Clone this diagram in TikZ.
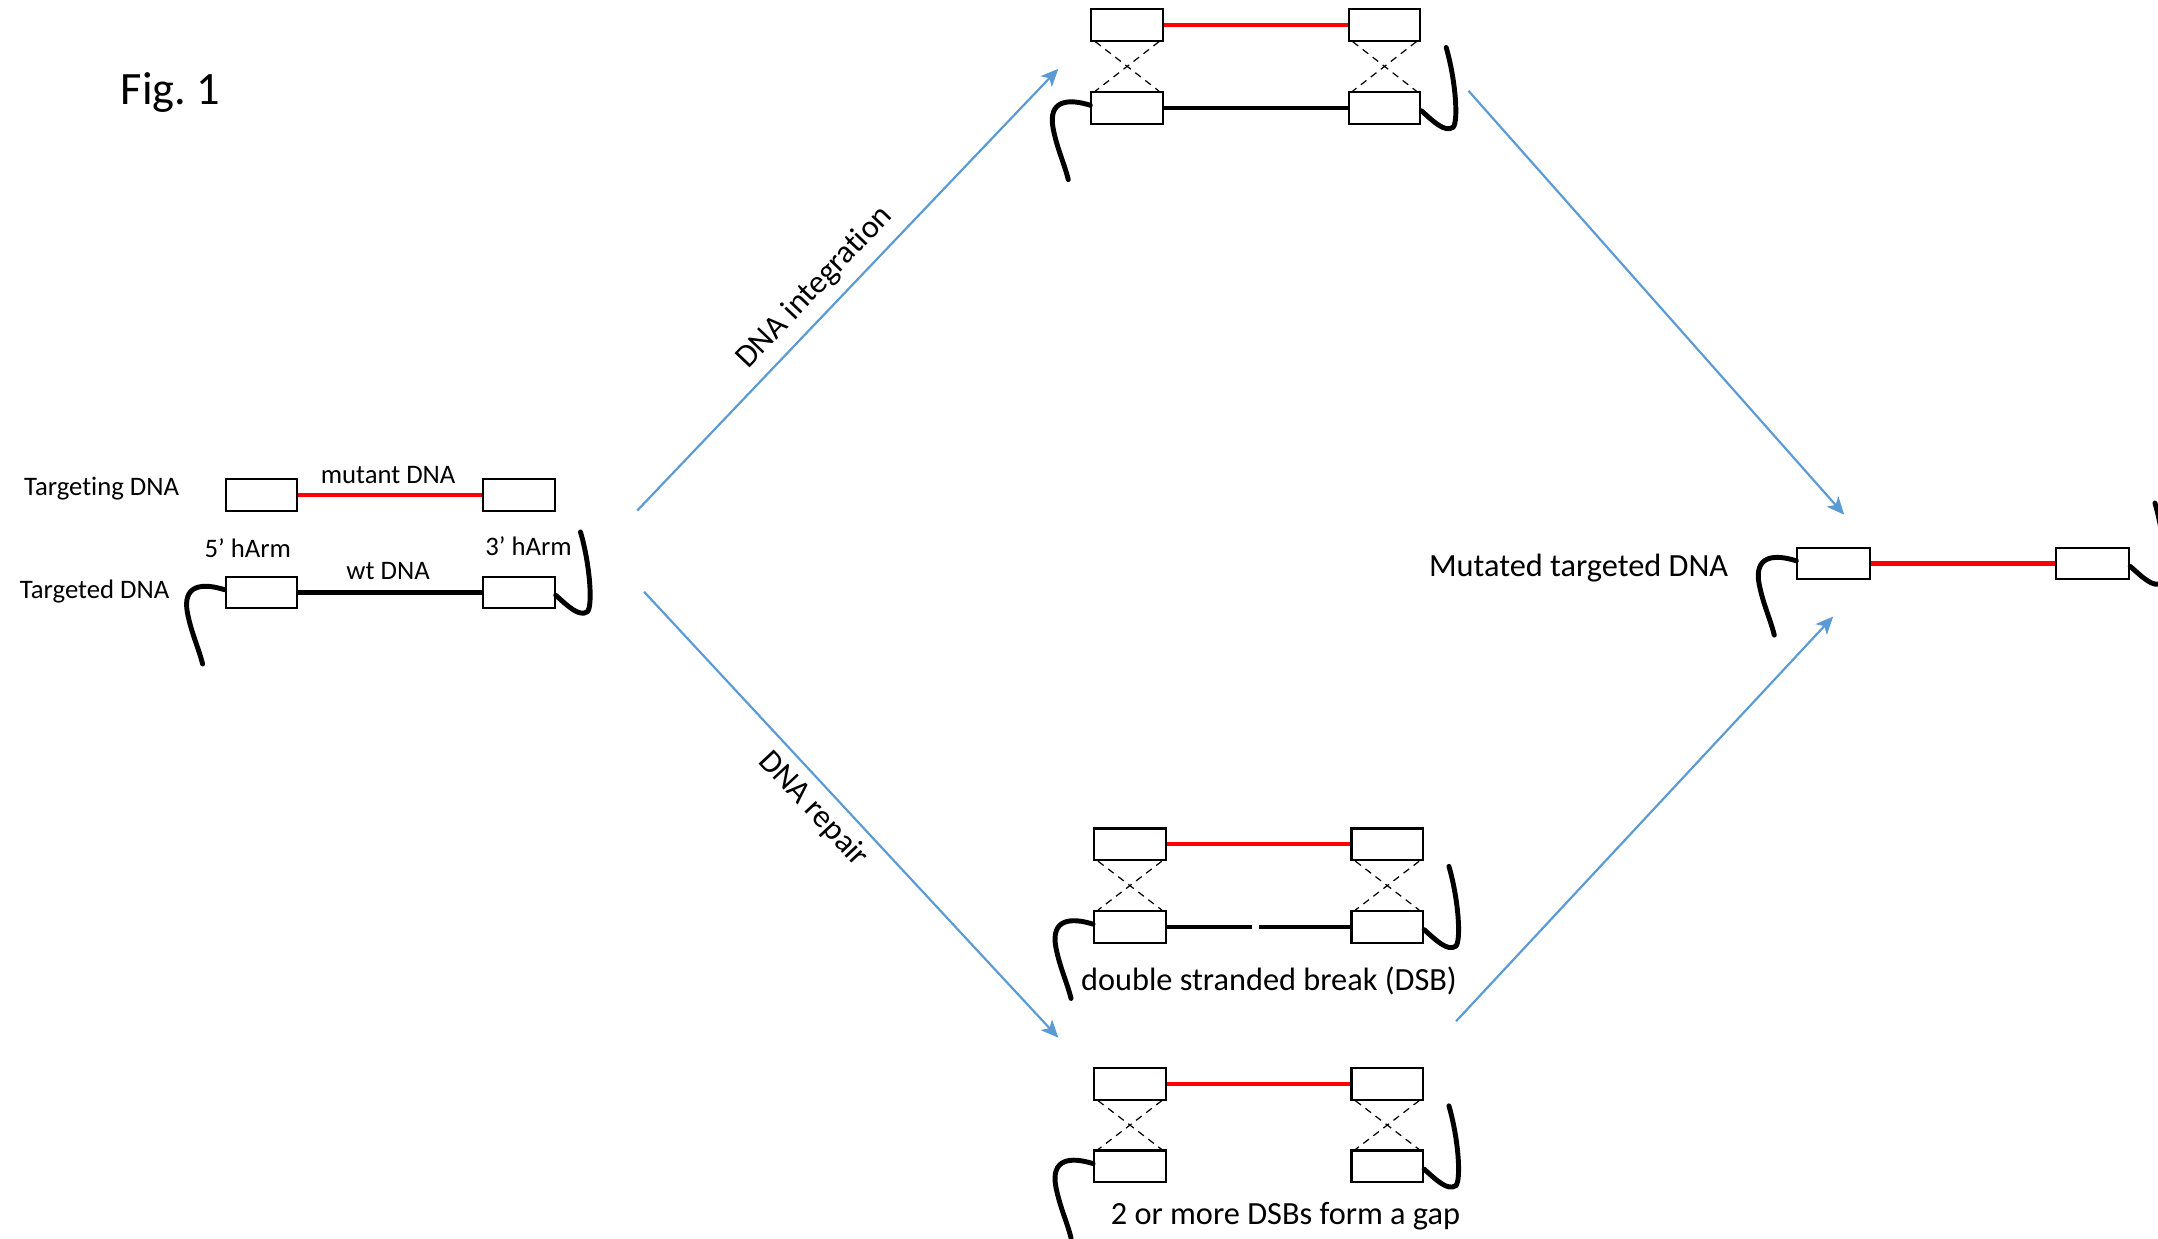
\documentclass[tikz,border=0pt]{standalone}
\usepackage{fontspec}
\setmainfont{Carlito}[Ligatures=NoCommon]
\frenchspacing
\usetikzlibrary{arrows.meta,calc}
\definecolor{flow}{RGB}{91,155,213}
\tikzset{
  arm/.style={draw, line width=0.6pt, fill=white, inner sep=0pt,
    minimum width=0.716cm, minimum height=0.317cm},
  wt/.style={line width=1.2pt, black},
  mut/.style={line width=1.2pt, red},
  tail/.style={line width=1.4pt, black, line cap=round},
  cross/.style={line width=0.35pt, dash pattern=on 2pt off 1.6pt},
  flowarrow/.style={line width=0.62pt, flow, -{Stealth[length=5pt,width=4.4pt,inset=1.3pt]}},
  small/.style={font=\fontsize{7.6}{9}\selectfont, inner sep=0pt},
  label/.style={font=\fontsize{9.2}{11}\selectfont, inner sep=0pt},
  ltail/.pic={\draw[tail] (0,-2) .. controls (-16,-7) and (-31,-6) .. (-27,15)
                .. controls (-24,30) and (-19,40) .. (-16,52);},
  rtail/.pic={\draw[tail] (0,2) .. controls (9,10) and (17,18) .. (23,14)
                .. controls (27,10) and (25,-20) .. (18,-44);},
}
\begin{document}
\begin{tikzpicture}[x=0.013763cm, y=-0.013763cm]
\useasboundingbox (0,0) rectangle (1568,900);
\clip (0,0) rectangle (1568,900);

\node[font=\fontsize{13.2}{15}\selectfont, inner sep=0pt] (fig) at (124,67) {Fig. 1};

% starting situation: targeting construct above the targeted locus
\node[small, anchor=west] (tgting) at (17,355) {Targeting DNA};
\node[small, anchor=west] (tgted) at (14,430) {Targeted DNA};
\node[arm] (gl1) at (190,359.5) {};
\node[arm] (gr1) at (377,359.5) {};
\node[arm] (gl2) at (190,430.5) {};
\node[arm] (gr2) at (377,430.5) {};
\draw[mut] (gl1.east) -- (gr1.west);
\draw[wt] (gl2.east) -- (gr2.west);
\pic at (gl2.west) {ltail};
\pic at (gr2.east) {rtail};
\node[small] (mutlbl) at (282,345) {mutant DNA};
\node[small] (wtlbl) at (282,415) {wt DNA};
\node[small] (arm5) at (180,398) {5’ hArm};
\node[small] (arm3) at (384,397) {3’ hArm};

% integration intermediate
\node[arm] (tl) at (819,18) {};
\node[arm] (tr) at (1006,18) {};
\node[arm] (bl) at (819,78.5) {};
\node[arm] (br) at (1006,78.5) {};
\draw[mut] (tl.east) -- (tr.west);
\draw[wt] (bl.east) -- (br.west);
\pic at (bl.west) {ltail};
\pic at (br.east) {rtail};

% repair of a single double stranded break
\node[arm] (ml1) at (821,613.5) {};
\node[arm] (mr1) at (1008,613.5) {};
\node[arm] (ml2) at (821,673.5) {};
\node[arm] (mr2) at (1008,673.5) {};
\coordinate (gapl) at (910,673.5);
\coordinate (gapr) at (915,673.5);
\draw[mut] (ml1.east) -- (mr1.west);
\draw[wt] (ml2.east) -- (gapl);
\draw[wt] (gapr) -- (mr2.west);
\pic at (ml2.west) {ltail};
\pic at (mr2.east) {rtail};
\node[label] (dsb) at (922,713) {double stranded break (DSB)};

% repair of a gap
\node[arm] (nl1) at (821,787.5) {};
\node[arm] (nr1) at (1008,787.5) {};
\node[arm] (nl2) at (821,847.5) {};
\node[arm] (nr2) at (1008,847.5) {};
\draw[mut] (nl1.east) -- (nr1.west);
\pic at (nl2.west) {ltail};
\pic at (nr2.east) {rtail};
\node[label] (gap) at (934,884) {2 or more DSBs form a gap};

% dashed crossovers between homology arms
\foreach \u/\v in {tl/bl, tr/br, ml1/ml2, mr1/mr2, nl1/nl2, nr1/nr2}{
  \draw[cross] ([xshift=0.05cm]\u.south west) -- ([xshift=-0.05cm]\v.north east);
  \draw[cross] ([xshift=-0.05cm]\u.south east) -- ([xshift=0.05cm]\v.north west);
}

% result
\node[label] (res) at (1147,413) {Mutated targeted DNA};
\node[arm, minimum width=0.73cm] (rl) at (1332.5,409.5) {};
\node[arm, minimum width=0.73cm] (rr) at (1520.5,409.5) {};
\draw[mut] (rl.east) -- (rr.west);
\pic at (rl.west) {ltail};
\pic at (rr.east) {rtail};

% pathways
\coordinate (a1s) at (463,371);  \coordinate (a1e) at (769,50);
\coordinate (a2s) at (1067,66);  \coordinate (a2e) at (1340,374);
\coordinate (a3s) at (468,430);  \coordinate (a3e) at (769,754);
\coordinate (a4s) at (1058,742); \coordinate (a4e) at (1332,448);
\draw[flowarrow] (a1s) -- (a1e);
\draw[flowarrow] (a2s) -- (a2e);
\draw[flowarrow] (a3s) -- (a3e);
\draw[flowarrow] (a4s) -- (a4e);
\node[label, rotate=46.4] (integ) at (592,209) {DNA integration};
\node[label, rotate=-47] (repair) at (591,588) {DNA repair};
\end{tikzpicture}
\end{document}
